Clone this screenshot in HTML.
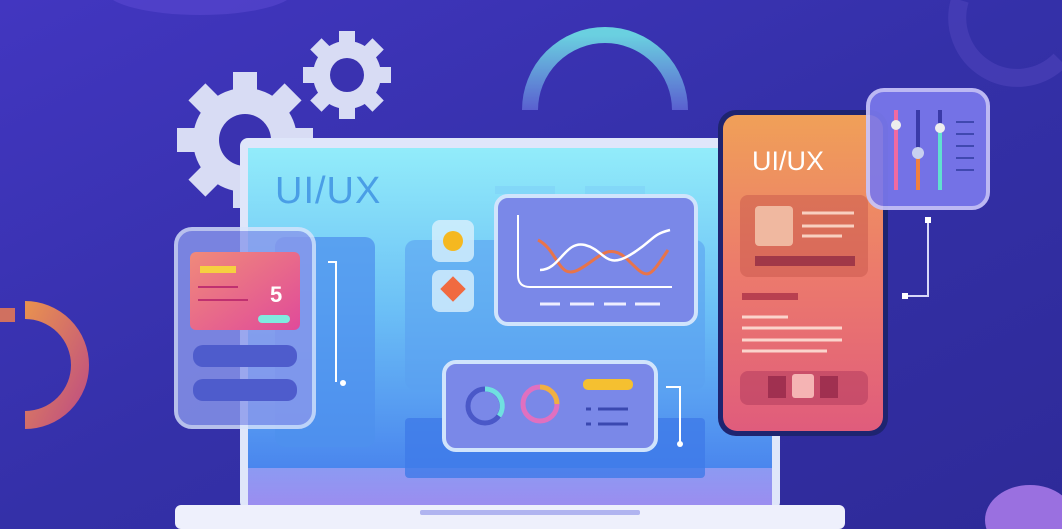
<!DOCTYPE html>
<html><head><meta charset="utf-8"><style>
html,body{margin:0;padding:0;width:1062px;height:529px;overflow:hidden;background:#3430a8}
svg{display:block}
text{font-family:"Liberation Sans",sans-serif;font-weight:bold}
text.n{font-weight:normal}
</style></head><body>
<svg width="1062" height="529" viewBox="0 0 1062 529" xmlns="http://www.w3.org/2000/svg">
<defs>
<linearGradient id="bg" x1="0" y1="0" x2="1" y2="1"><stop offset="0" stop-color="#4236c0"/><stop offset=".5" stop-color="#3430a8"/><stop offset="1" stop-color="#2e2a98"/></linearGradient>
<linearGradient id="scr" x1="0" y1="0" x2="0" y2="1"><stop offset="0" stop-color="#92ecfa"/><stop offset=".5" stop-color="#6cc0f6"/><stop offset="1" stop-color="#4a86ee"/></linearGradient>
<linearGradient id="bez" x1="0" y1="0" x2="0" y2="1"><stop offset="0" stop-color="#8c9af2"/><stop offset="1" stop-color="#9c8cf0"/></linearGradient>
<linearGradient id="ph" x1="0" y1="0" x2="0" y2="1"><stop offset="0" stop-color="#f0a058"/><stop offset=".5" stop-color="#ec7a6c"/><stop offset="1" stop-color="#e05c7c"/></linearGradient>
<linearGradient id="card" x1="0" y1="0" x2="1" y2="1"><stop offset="0" stop-color="#f08a7a"/><stop offset="1" stop-color="#e04a9a"/></linearGradient>
<linearGradient id="ring" x1="0" y1="0" x2="0" y2="1"><stop offset="0" stop-color="#6ad0e0"/><stop offset="1" stop-color="#5a60d0"/></linearGradient>
<linearGradient id="orng" x1="0" y1="0" x2="1" y2="1"><stop offset="0" stop-color="#e89050"/><stop offset="1" stop-color="#c05080"/></linearGradient>
</defs>
<rect width="1062" height="529" fill="url(#bg)"/>
<ellipse cx="200" cy="-10" rx="95" ry="25" fill="#5a48d0" opacity=".6"/>
<path d="M960 0 a60 60 0 0 0 100 60" stroke="#4a40b8" stroke-width="18" fill="none" opacity=".7"/>
<path d="M530 110 a75 75 0 0 1 150 0" stroke="url(#ring)" stroke-width="16" fill="none"/>
<path d="M5 310 a55 55 0 0 1 0 110" transform="translate(20,0)" stroke="url(#orng)" stroke-width="18" fill="none"/>
<path d="M0 315 h15" stroke="#d07060" stroke-width="14"/>
<ellipse cx="1030" cy="520" rx="45" ry="35" fill="#9a70e0"/>
<g fill="#d8dcf4">
<circle cx="245" cy="140" r="52"/>
<g transform="translate(245,140)">
<rect x="-12" y="-68" width="24" height="136"/><rect x="-12" y="-68" width="24" height="136" transform="rotate(45)"/><rect x="-12" y="-68" width="24" height="136" transform="rotate(90)"/><rect x="-12" y="-68" width="24" height="136" transform="rotate(135)"/>
</g>
<circle cx="347" cy="75" r="34"/>
<g transform="translate(347,75)">
<rect x="-8" y="-44" width="16" height="88"/><rect x="-8" y="-44" width="16" height="88" transform="rotate(45)"/><rect x="-8" y="-44" width="16" height="88" transform="rotate(90)"/><rect x="-8" y="-44" width="16" height="88" transform="rotate(135)"/>
</g>
</g>
<circle cx="245" cy="140" r="26" fill="#3a32b0"/>
<circle cx="347" cy="75" r="17" fill="#3a32b0"/>
<rect x="240" y="138" width="540" height="372" rx="8" fill="#dfe6fa"/>
<rect x="248" y="148" width="524" height="320" fill="url(#scr)"/>
<rect x="248" y="468" width="524" height="40" fill="url(#bez)"/>
<rect x="175" y="505" width="670" height="24" rx="6" fill="#eef0fc"/>
<rect x="420" y="510" width="220" height="5" rx="2" fill="#b0b4f0"/>
<text class="n" x="275" y="203" font-size="38" fill="#4a9ee6" letter-spacing="1">UI/UX</text>
<rect x="495" y="186" width="60" height="8" fill="#7ed0f6" opacity=".6"/>
<rect x="585" y="186" width="60" height="8" fill="#7ed0f6" opacity=".6"/>
<rect x="275" y="237" width="100" height="210" rx="10" fill="#4e90ee" opacity=".75"/>
<rect x="405" y="240" width="300" height="150" rx="10" fill="#5aa0f0" opacity=".6"/>
<rect x="405" y="418" width="300" height="60" rx="4" fill="#3f7ae8" opacity=".8"/>
<path d="M328 262 h8 v120" stroke="#fff" stroke-width="2" fill="none"/><circle cx="343" cy="383" r="3" fill="#fff"/>
<path d="M666 387 h14 v56" stroke="#fff" stroke-width="2" fill="none"/><circle cx="680" cy="444" r="3" fill="#fff"/>
<rect x="432" y="220" width="42" height="42" rx="8" fill="#d8f0fc" opacity=".8"/><circle cx="453" cy="241" r="10" fill="#f5b820"/>
<rect x="432" y="270" width="42" height="42" rx="8" fill="#d8f0fc" opacity=".8"/><rect x="444" y="280" width="18" height="18" transform="rotate(45 453 289)" fill="#f06a40"/>
<rect x="496" y="196" width="200" height="128" rx="12" fill="#7a88e8" stroke="#d0e4fc" stroke-width="4"/>
<path d="M518 215 v60 q0 12 12 12 h142" stroke="#fff" stroke-width="2" fill="none"/>
<path d="M538 240 c20 10 20 40 40 30 s30 -30 50 -10 s20 20 40 -10" stroke="#e8744a" stroke-width="3" fill="none"/>
<path d="M540 270 c20 0 25 -30 45 -25 s20 25 45 10 s20 -20 40 -25" stroke="#fff" stroke-width="2.5" fill="none"/>
<g stroke="#eef" stroke-width="3"><path d="M540 304h20M570 304h24M604 304h22M635 304h25"/></g>
<rect x="444" y="362" width="212" height="88" rx="12" fill="#7a88e8" stroke="#d0e4fc" stroke-width="4"/>
<circle cx="485" cy="406" r="17" stroke="#4a58c8" stroke-width="5" fill="none"/>
<path d="M485 389 a17 17 0 0 1 14 27" stroke="#70e0e0" stroke-width="5" fill="none"/>
<circle cx="540" cy="404" r="17" stroke="#e070c0" stroke-width="5" fill="none"/>
<path d="M540 387 a17 17 0 0 1 17 17" stroke="#f0b040" stroke-width="5" fill="none"/>
<rect x="583" y="379" width="50" height="11" rx="5" fill="#f5c030"/>
<g stroke="#3a48b0" stroke-width="3"><path d="M586 409h5M598 409h30M586 424h5M598 424h30"/></g>
<rect x="176" y="229" width="138" height="198" rx="16" fill="#8a98ec" opacity=".8" stroke="#d8e4fc" stroke-width="4"/>
<rect x="190" y="252" width="110" height="78" rx="6" fill="url(#card)"/>
<rect x="200" y="266" width="36" height="7" fill="#f6d040"/>
<path d="M198 287h40M198 300h50" stroke="#c03070" stroke-width="2"/>
<text x="270" y="302" font-size="22" fill="#fff">5</text>
<rect x="258" y="315" width="32" height="8" rx="4" fill="#80eae0"/>
<rect x="193" y="345" width="104" height="22" rx="10" fill="#4e5ccc"/>
<rect x="193" y="379" width="104" height="22" rx="10" fill="#4e5ccc"/>
<rect x="718" y="110" width="170" height="326" rx="18" fill="#1e2470"/>
<rect x="723" y="115" width="160" height="316" rx="14" fill="url(#ph)"/>
<text class="n" x="752" y="170" font-size="27" fill="#fff">UI/UX</text>
<rect x="740" y="195" width="128" height="82" rx="8" fill="#c8584c" opacity=".5"/>
<rect x="755" y="206" width="38" height="40" rx="4" fill="#f0b8a0"/>
<path d="M802 213h52M802 226h52M802 236h40" stroke="#f8d0c0" stroke-width="3"/>
<rect x="755" y="256" width="100" height="10" fill="#a03848"/>
<rect x="742" y="293" width="56" height="7" fill="#b84050"/>
<path d="M742 317h46M742 328h100M742 340h100M742 351h85" stroke="#fbd4cc" stroke-width="3"/>
<rect x="740" y="371" width="128" height="34" rx="8" fill="#b84060" opacity=".6"/>
<rect x="768" y="376" width="18" height="22" fill="#a03050"/><rect x="792" y="374" width="22" height="24" rx="3" fill="#f5b4b4"/><rect x="820" y="376" width="18" height="22" fill="#a03050"/>
<rect x="868" y="90" width="120" height="118" rx="16" fill="#7a78ec" opacity=".92" stroke="#c8c4fa" stroke-width="4"/>
<path d="M896 110v80" stroke="#f06aa0" stroke-width="4"/><circle cx="896" cy="125" r="5" fill="#eee"/>
<path d="M918 110v80" stroke="#f08040" stroke-width="4"/><path d="M918 110v40" stroke="#3a3aa8" stroke-width="4"/><circle cx="918" cy="153" r="6" fill="#c8d0f0"/>
<path d="M940 110v80" stroke="#60e0d0" stroke-width="4"/><path d="M940 110v18" stroke="#3a3aa8" stroke-width="4"/><circle cx="940" cy="128" r="5" fill="#eee"/>
<path d="M956 122h18M956 134h18M956 146h18M956 158h18M956 170h18" stroke="#4048b0" stroke-width="2"/>
<path d="M928 220v76h-22" stroke="#d8d8f8" stroke-width="2" fill="none"/>
<rect x="925" y="217" width="6" height="6" fill="#fff"/><rect x="902" y="293" width="6" height="6" fill="#fff"/>
</svg>
</body></html>
